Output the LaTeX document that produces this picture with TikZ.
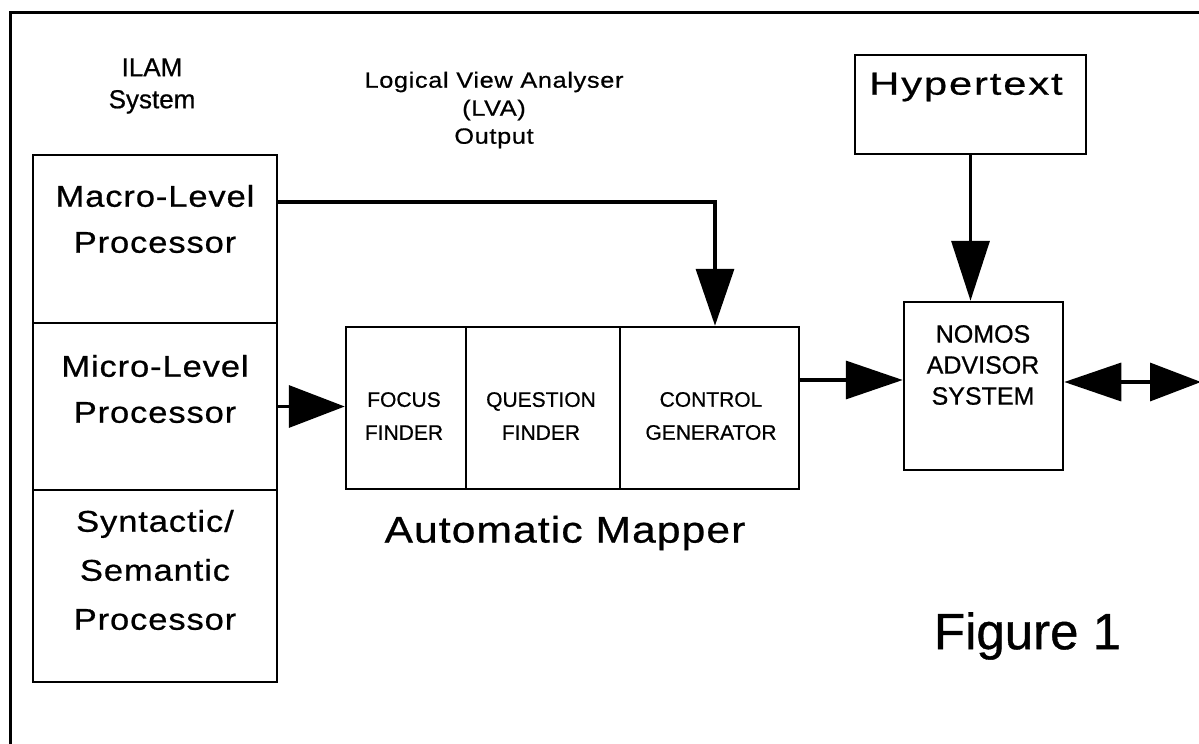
\documentclass[tikz,border=0pt]{standalone}
\usepackage{fontspec}
\setmainfont{Liberation Sans}[FakeBold=0.7]
\newfontfamily\spacedsans{Liberation Sans}[FakeStretch=1.15, LetterSpace=3, FakeBold=0.7]
\newfontfamily\widesans{Liberation Sans}[FakeStretch=1.3, LetterSpace=6, FakeBold=0.7]
\usetikzlibrary{arrows.meta,positioning}

\tikzset{
  procbox/.style  = {shape=rectangle, draw, line width=2.5pt,
                     minimum width=244pt, inner sep=0pt},
  cellbox/.style  = {shape=rectangle, draw, line width=2.5pt,
                     minimum height=162pt, inner sep=0pt},
  plainbox/.style = {shape=rectangle, draw, line width=2.5pt, inner sep=0pt},
  proctext/.style = {align=center, inner sep=0pt,
                     font=\spacedsans\fontsize{30}{46}\selectfont},
  celltext/.style = {align=center, inner sep=0pt,
                     font=\fontsize{21}{33}\selectfont},
  bigarrow/.style = {line width=3.5pt, -{Triangle[length=57pt,width=38pt]}}
}

\begin{document}
\begin{tikzpicture}[x=1pt, y=-1pt]
\useasboundingbox (0,0) rectangle (1199,744);
\draw[line width=3pt] (10,744) -- (10,12) -- (1199,12);

% headings
\node[align=center, inner sep=0pt, font=\fontsize{26}{32}\selectfont]
  (ilam) at (152,86) {ILAM\\System};
\node[align=center, inner sep=0pt, font=\spacedsans\fontsize{22}{28}\selectfont]
  (lva) at (494,110) {Logical View Analyser\\(LVA)\\Output};

% ILAM processors
\node[procbox, minimum height=168pt] (macro)  at (155,239) {};
\node[procbox, minimum height=167pt] (micro)  at (155,406.5) {};
\node[procbox, minimum height=192pt] (syntax) at (155,586) {};
\node[proctext] (macrotxt)  at (155,219) {Macro-Level\\Processor};
\node[proctext] (microtxt)  at (155,389) {Micro-Level\\Processor};
\node[proctext, font=\spacedsans\fontsize{30}{49}\selectfont]
  (syntaxtxt) at (155,570) {Syntactic/\\Semantic\\Processor};

% automatic mapper
\node[cellbox, minimum width=120pt] (focus)    at (406,408) {};
\node[cellbox, minimum width=154pt] (question) at (543,408) {};
\node[cellbox, minimum width=179pt] (control)  at (709.5,408) {};
\node[celltext] (focustxt)    at (404,416) {FOCUS\\FINDER};
\node[celltext] (questiontxt) at (541,416) {QUESTION\\FINDER};
\node[celltext] (controltxt)  at (711,416) {CONTROL\\GENERATOR};
\node[inner sep=0pt, font=\spacedsans\fontsize{37}{44}\selectfont]
  (mapper) at (565,533) {Automatic Mapper};

% advisor side
\node[plainbox, minimum width=231pt, minimum height=99pt] (hyper) at (970.5,104.5) {};
\node[inner sep=0pt, font=\widesans\fontsize{32}{38}\selectfont]
  (hypertxt) at (966,87) {Hypertext};
\node[plainbox, minimum width=159pt, minimum height=168pt] (nomos) at (983.5,386) {};
\node[align=center, inner sep=0pt, font=\fontsize{25}{31}\selectfont]
  (nomostxt) at (983,365) {NOMOS\\ADVISOR\\SYSTEM};
\node[inner sep=0pt, font=\fontsize{51}{60}\selectfont]
  (figure) at (1027.5,636) {Figure 1};
\coordinate (outside) at (1201,382);

% connectors
\draw[bigarrow] ([yshift=37pt]macro.east) -| ([xshift=5.5pt]control.north);
\draw[bigarrow, -{Triangle[length=56pt,width=42pt]}]
  (micro.east) -- (micro.east -| focus.west);
\draw[bigarrow] ([yshift=28pt]control.east) -- ([yshift=28pt]control.east -| nomos.west);
\draw[bigarrow, -{Triangle[length=60pt,width=38pt]}]
  (hyper.south) -- (hyper.south |- nomos.north);
\draw[line width=3.5pt, {Triangle[length=57pt,width=38pt]}-{Triangle[length=51pt,width=38pt]}]
  (nomos.east |- outside) -- (outside);
\end{tikzpicture}
\end{document}
